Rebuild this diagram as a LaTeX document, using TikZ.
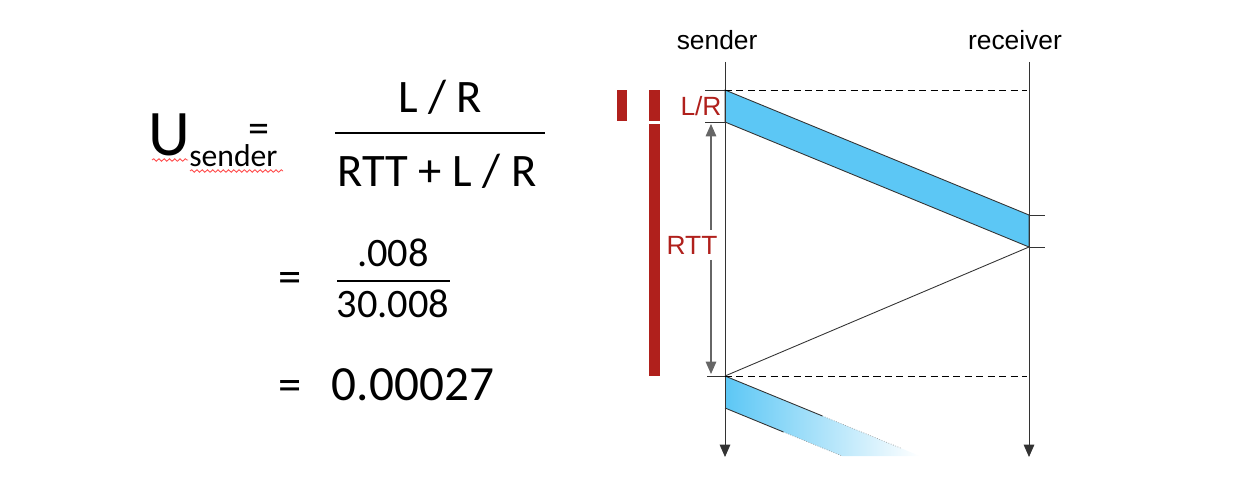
\documentclass[tikz,border=0pt]{standalone}
\usepackage{fontspec}
\setmainfont{Carlito}
\newfontfamily\arialfont{Liberation Sans}
\usetikzlibrary{arrows.meta,calc,positioning,decorations.pathmorphing}
\definecolor{pktblue}{RGB}{92,199,245}
\definecolor{rttred}{RGB}{176,32,28}

\begin{document}
\begin{tikzpicture}[
  x=0.02cm, y=-0.02cm,
  frm/.style={inner sep=0pt, anchor=base, font=\fontsize{26.5}{30}\selectfont},
  frmsmall/.style={frm, font=\fontsize{23}{27}\selectfont},
  lbl/.style={inner sep=0pt, font=\arialfont\fontsize{15}{18}\selectfont},
  redlbl/.style={lbl, text=rttred},
  axis/.style={draw=black!80, line width=0.5pt, -{Triangle[length=7pt,width=6pt]}},
  tick/.style={draw=black!80, line width=0.5pt},
  guide/.style={draw=black, dash pattern=on 4pt off 2.5pt, line width=0.5pt},
  pkt/.style={fill=pktblue, draw=black!80, line width=0.5pt},
  bar/.style={fill=rttred, draw=none},
  squig/.style={draw=red!70, line width=0.5pt, decorate, decoration={snake, amplitude=0.7pt, segment length=3pt}},
  arr/.style={draw=black!60, line width=0.6pt, -{Triangle[length=7pt,width=6pt]}}
]
\useasboundingbox (0,0) rectangle (1244,496);

% utilization formula
\node[frm, font=\fontsize{37}{40}\selectfont] (usym) at (169,156) {U};
\node[frm, font=\fontsize{18}{20}\selectfont, anchor=base west] (usub) at (189,167) {sender};
\node[frm, font=\fontsize{24}{26}\selectfont, text depth=0pt] (eqa) at (259,143) {=};
\node[frm] (numa) at (440,113) {L / R};
\node[frm] (dena) at (437,187) {RTT + L / R};
\coordinate (fa1) at (335,133);
\coordinate (fa2) at (545,133);
\draw[line width=1.2pt] (fa1) -- (fa2);
\draw[squig] (152,160) -- (188,160);
\draw[squig] (190,171) -- (283,171);

\node[frm] (eqb) at (290,293) {=};
\node[frmsmall] (numb) at (393,267) {.008};
\node[frmsmall] (denb) at (393,318) {30.008};
\coordinate (fb1) at (337,281);
\coordinate (fb2) at (450,281);
\draw[line width=1.1pt] (fb1) -- (fb2);

\node[frm] (eqc) at (290,400) {=};
\node[frm, font=\fontsize{28}{30}\selectfont] (result) at (413,400) {0.00027};

% red timing bars
\fill[bar] (617,90) rectangle (627,121);
\fill[bar] (649,90) rectangle (660,121);
\fill[bar] (649,124) rectangle (660,376);

% sender and receiver time lines
\coordinate (stop) at (725,62);
\coordinate (sbot) at (725,457);
\coordinate (rtop) at (1029,62);
\coordinate (rbot) at (1029,457);
\node[lbl, above=7pt of stop, xshift=-4.5pt] (sender) {sender};
\node[lbl, above=7pt of rtop, xshift=-8pt] (receiver) {receiver};

% first packet
\coordinate (p1a) at (725,90);
\coordinate (p1b) at (725,122);
\coordinate (p1c) at (1029,247);
\coordinate (p1d) at (1029,215);
\draw[pkt] (p1a) -- (p1d) -- (p1c) -- (p1b) -- cycle;

% second packet, fading out
\coordinate (p2a) at (725,376);
\coordinate (p2b) at (725,408);
\coordinate (p2c) at (842,456);
\coordinate (p2d) at (920,456);
\shade[left color=pktblue, middle color=pktblue!60, right color=white] (p2a) -- (p2d) -- (p2c) -- (p2b) -- cycle;
\draw[black!80, line width=0.5pt] (p2a) -- ($(p2a)!0.5!(p2d)$);
\draw[black!40, densely dotted] ($(p2a)!0.5!(p2d)$) -- ($(p2a)!0.9!(p2d)$);
\draw[black!80, line width=0.5pt] (p2b) -- ($(p2b)!0.5!(p2c)$);
\draw[black!40, densely dotted] ($(p2b)!0.5!(p2c)$) -- (p2c);

\draw[axis] (stop) -- (sbot);
\draw[axis] (rtop) -- (rbot);

% ack and guides
\draw[black!80, line width=0.5pt] (p1c) -- (p2a);
\draw[guide] (p1a) -- (1027,90);
\draw[guide] (p2a) -- (1027,376);
\draw[tick] (705,90) -- (p1a);
\draw[tick] (705,122) -- (p1b);
\draw[tick] (707,376) -- (p2a);
\draw[tick] (p1d) -- (1045,215);
\draw[tick] (p1c) -- (1045,247);

% L/R and RTT labels
\node[redlbl] (lrlbl) at (701,106) {L/R};
\node[redlbl] (rttlbl) at (692,245) {RTT};
\coordinate (rtt1) at (711,124);
\coordinate (rtt2) at (711,374);
\draw[arr] (711,230) -- (rtt1);
\draw[arr] (711,260) -- (rtt2);
\end{tikzpicture}
\end{document}
